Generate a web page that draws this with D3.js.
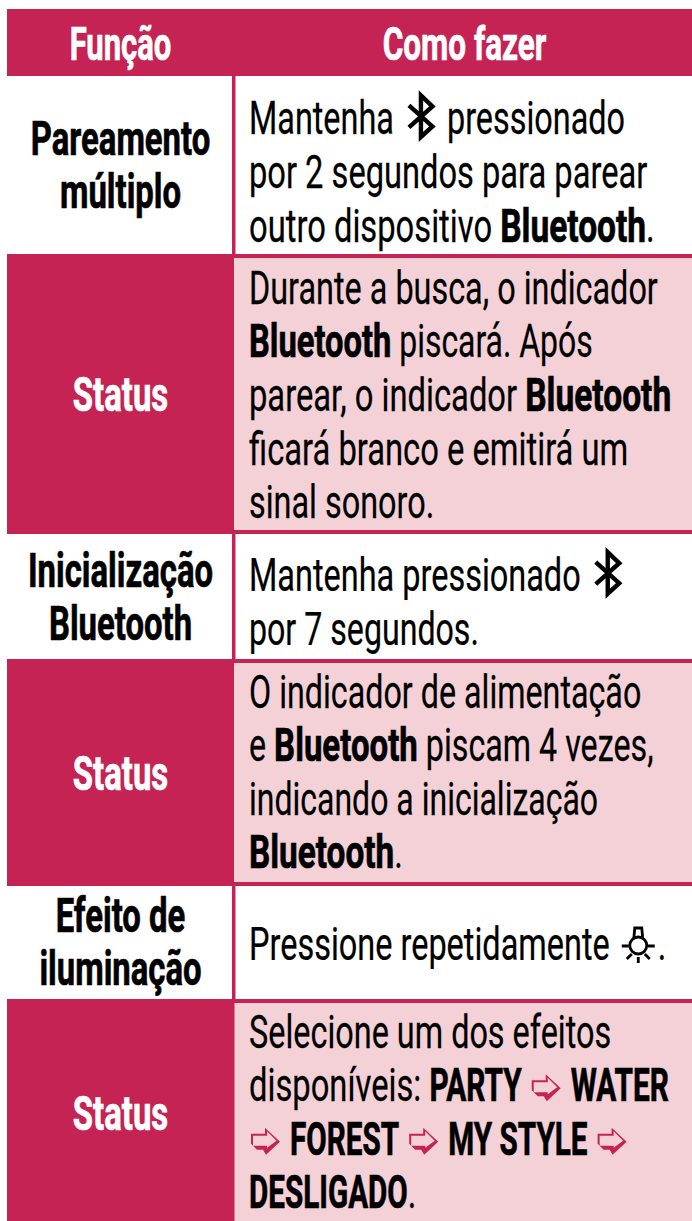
<!DOCTYPE html>
<html><head><meta charset="utf-8"><script src="https://cdn.jsdelivr.net/npm/d3@7"></script>
<style>html,body{margin:0;padding:0;background:#fff}svg{display:block}text{font-family:"Roboto",sans-serif;fill:#000;}</style></head>
<body><svg id="c" width="692" height="1221"></svg>
<script>
const headers = ["Função", "Como fazer"];
const functions = [["Pareamento","múltiplo"],["Status"],["Inicialização","Bluetooth"],["Status"],["Efeito de","iluminação"],["Status"]];
const details = [
 ["Mantenha {bt} pressionado","por 2 segundos para parear","outro dispositivo **Bluetooth**."],
 ["Durante a busca, o indicador","**Bluetooth** piscará. Após","parear, o indicador **Bluetooth**","ficará branco e emitirá um","sinal sonoro."],
 ["Mantenha pressionado {bt}","por 7 segundos."],
 ["O indicador de alimentação","e **Bluetooth** piscam 4 vezes,","indicando a inicialização","**Bluetooth**."],
 ["Pressione repetidamente {light}."],
 ["Selecione um dos efeitos","disponíveis: **PARTY** {arrow} **WATER**","{arrow} **FOREST** {arrow} **MY STYLE** {arrow}","**DESLIGADO**."]
];
const rowKinds = ["plain","shaded","plain","shaded","plain","shaded"];
// layout
const rowEdges=[76,254,534,659,886,999,1221], labelMid=[181.5,411,613,790,958,1130], detailMid=[188,411,618,788,960,1128];
const lineFit=[[0.995,1.0025,1.005],[0.995,0.98,1.005,1.005,0.995],[0.997,0.987],[0.99,0.99,0.983,1],[0.997],[0.995,1.005,1,1]];
const LH=53.6, FS=46, crimson="#c42354", pink="#f3d1d6", RX=0.708, BX=0.725, CX=0.645;
const svg=d3.select("#c");
svg.append("rect").attr("x",7).attr("y",9).attr("width",685).attr("height",67).attr("fill",crimson);
d3.pairs(rowEdges).forEach(([a,b],i)=>{
 if(rowKinds[i]==="shaded"){
  svg.append("rect").attr("x",7).attr("y",a).attr("width",227).attr("height",b-a).attr("fill",crimson);
  svg.append("rect").attr("x",234).attr("y",a).attr("width",458).attr("height",b-a).attr("fill",pink);
  svg.append("rect").attr("x",234).attr("y",a).attr("width",458).attr("height",4).attr("fill",crimson);
  if(i<rowKinds.length-1) svg.append("rect").attr("x",234).attr("y",b-4).attr("width",458).attr("height",4).attr("fill",crimson);
 } else {
  svg.append("rect").attr("x",232).attr("y",a).attr("width",3.5).attr("height",b-a).attr("fill",crimson);
 }
});
svg.append("rect").attr("x",232).attr("y",rowEdges[5]).attr("width",2.5).attr("height",rowEdges[6]-rowEdges[5]).attr("fill",crimson);
function centerText(t,cx,y,fill,fs,sx){
 const g=svg.append("g").attr("transform",`translate(${cx},${y}) scale(${sx},1)`);
 g.append("text").attr("text-anchor","middle").attr("font-size",fs).attr("font-weight",700).style("fill",fill).style("stroke",fill).style("stroke-width",0.7).text(t);
}
centerText(headers[0],120.5,60,"#fff",47,0.66);
centerText(headers[1],464.5,60,"#fff",47,0.67);
functions.forEach((ls,i)=>{
 ls.forEach((t,j)=>centerText(t,120.5,labelMid[i]+(j-(ls.length-1)/2)*53,rowKinds[i]==="shaded"?"#fff":"#000",48,0.685));
});
function btIcon(px,base){
 const s=svg.append("g").attr("transform",`translate(${px+6},${base+1})`);
 s.append("path").attr("d","M1 -30 L24.5 -9 L13 1.5 L13 -40 L24.5 -29 L1 -8").attr("fill","none").attr("stroke","#000").attr("stroke-width",4.4);
 return 37;
}
function lightIcon(px,base){
 const s=svg.append("g").attr("transform",`translate(${px+3},${base})`).attr("fill","none").attr("stroke","#000").attr("stroke-width",2.8);
 s.append("circle").attr("cx",17.5).attr("cy",-14.5).attr("r",8.5);
 s.append("path").attr("d","M13 -21 L14 -32 H21 L22 -21 M1 -14 H8 M27 -14 H34 M6 -1 L11 -6 M29 -1 L24 -6 M17.5 -3 V3");
 return 40;
}
function arrowIcon(px,base){
 const s=svg.append("g").attr("transform",`translate(${px+2},${base})`);
 s.append("path").attr("d","M0 -21 H14 V-27 L29 -13 L15 0 L12 -5 H6 L0 -11 Z").attr("fill",crimson);
 s.append("path").attr("d","M2 -19 H16 V-23.5 L25.5 -14 L16 -7 V-9 H2 Z").attr("fill",pink);
 return 33;
}
const icons={bt:btIcon,light:lightIcon,arrow:arrowIcon};
function drawLine(str,x0,y,fit){
 let px=x0;
 str.split(/(\*\*.*?\*\*|\{\w+\})/).filter(s=>s).forEach(seg=>{
  const ic=seg.match(/^\{(\w+)\}$/);
  if(ic){px+=icons[ic[1]](px,y);return;}
  const b=seg.startsWith("**"); const t=b?seg.slice(2,-2):seg;
  const sx=(b?(t===t.toUpperCase()?CX:BX):RX)*fit;
  const g=svg.append("g").attr("transform",`translate(${px},${y}) scale(${sx},1)`);
  const n=g.append("text").attr("font-size",FS).attr("font-weight",b?700:400).attr("xml:space","preserve").style("white-space","pre").text(t);
  n.style("stroke","#000").style("stroke-width",b?0.7:0.25);
  px+=n.node().getComputedTextLength()*sx;
 });
}
details.forEach((ls,i)=>ls.forEach((t,j)=>drawLine(t,249,detailMid[i]+(j-(ls.length-1)/2)*LH,lineFit[i][j])));
</script></body></html>
